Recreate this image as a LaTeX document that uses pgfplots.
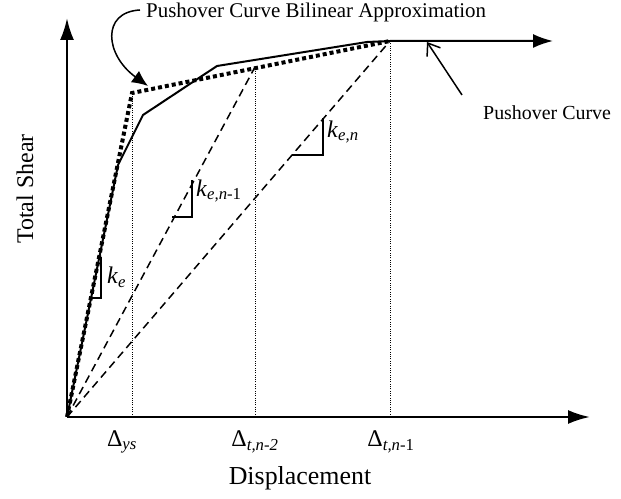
\documentclass[border=0pt]{standalone}
\usepackage{fontspec}
\setmainfont{Liberation Serif}
\usepackage{pgfplots}
\pgfplotsset{compat=1.18}
\usetikzlibrary{arrows.meta}
\newcommand\sub[1]{\textsubscript{#1}}
\begin{document}
\begin{tikzpicture}
\begin{axis}[
 width=621bp, height=499bp, scale only axis,
 xmin=-67, xmax=554, ymin=-82, ymax=417,
 axis lines=none, ticks=none, clip=false,
]
\path (axis cs:-67,-82) rectangle (axis cs:554,417);
% axes
\addplot[line width=2.5bp, -{Latex[length=22bp,width=14bp]}] coordinates {(0,0) (523,0)};
\addplot[line width=2.5bp, -{Latex[length=22bp,width=14bp]}] coordinates {(0,0) (0,399)};
% dotted verticals
\addplot[line width=1bp, dash pattern=on 1bp off 1.3bp] coordinates {(65,0) (65,324)};
\addplot[line width=1bp, dash pattern=on 1bp off 1.3bp] coordinates {(188,0) (188,350)};
\addplot[line width=1bp, dash pattern=on 1bp off 1.3bp] coordinates {(323,0) (323,376)};
% dashed secant stiffness lines
\addplot[line width=1.5bp, dash pattern=on 8bp off 5bp] coordinates {(0,0) (188,350)};
\addplot[line width=1.5bp, dash pattern=on 8bp off 5bp] coordinates {(0,0) (323,376)};
% bilinear approximation
\addplot[line width=4bp, dash pattern=on 4bp off 3bp] coordinates {(0,0) (65,324) (323,376)};
% pushover curve
\addplot[line width=2bp, -{Latex[length=20bp,width=14bp]}] coordinates {(0,0) (51,252) (76,302) (150,351) (300,375) (323,376) (486,376)};
% slope triangles
\addplot[line width=1.5bp] coordinates {(26,119) (34,119) (34,160)};
\addplot[line width=1.5bp] coordinates {(105,200) (125,200) (125,237)};
\addplot[line width=1.5bp] coordinates {(225,262) (256,262) (256,299)};
% labels
\node[anchor=west, inner sep=0pt, font=\fontsize{24}{28}\selectfont] at (axis cs:40,140) {\textit{k}\sub{\textit{e}}};
\node[anchor=west, inner sep=0pt, font=\fontsize{24}{28}\selectfont] at (axis cs:129,226) {\textit{k}\sub{\textit{e,n}-1}};
\node[anchor=west, inner sep=0pt, font=\fontsize{24}{28}\selectfont] at (axis cs:260,285) {\textit{k}\sub{\textit{e,n}}};
\node[inner sep=0pt, font=\fontsize{24}{28}\selectfont] at (axis cs:55,-25) {Δ\sub{\textit{ys}}};
\node[inner sep=0pt, font=\fontsize{24}{28}\selectfont] at (axis cs:188,-25) {Δ\sub{\textit{t,n-2}}};
\node[inner sep=0pt, font=\fontsize{24}{28}\selectfont] at (axis cs:324,-25) {Δ\sub{\textit{t,n}-1}};
\node[inner sep=0pt, font=\fontsize{26}{30}\selectfont] at (axis cs:233,-61) {Displacement};
\node[inner sep=0pt, rotate=90, font=\fontsize{24}{28}\selectfont] at (axis cs:-42,228) {Total Shear};
\node[anchor=west, inner sep=0pt, font=\fontsize{21}{25}\selectfont] at (axis cs:79,405) {Pushover Curve Bilinear Approximation};
\node[anchor=west, inner sep=0pt, font=\fontsize{20}{24}\selectfont] at (axis cs:416,304) {Pushover Curve};
% annotation arrows
\draw[line width=1.5bp, -{Latex[length=16bp,width=14bp]}] (axis cs:73,407) .. controls (axis cs:34,405) and (axis cs:38,362) .. (axis cs:81,331);
\draw[line width=1.5bp, -{Straight Barb[length=11bp,width=16bp]}] (axis cs:395,322) -- (axis cs:360,375);
\end{axis}
\end{tikzpicture}
\end{document}
